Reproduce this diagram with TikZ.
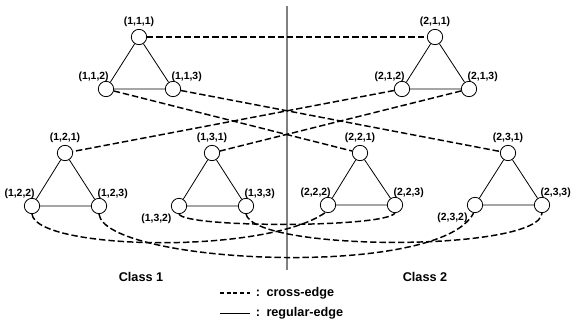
\documentclass[tikz,border=0pt]{standalone}
\usepackage{fontspec}
\setmainfont{Liberation Sans}
\tikzset{every picture/.style={line width=0.75pt}}
\tikzset{
  vtx/.style={circle,draw,fill=white,inner sep=0pt,minimum size=11.5pt,line width=0.6pt},
  every label/.style={font=\fontsize{7.8}{9}\selectfont\bfseries,inner sep=1pt},
  crossedge/.style={dash pattern=on 4.8pt off 2.2pt,line width=1.1pt},
  regedge/.style={line width=0.6pt},
  keydash/.style={dash pattern=on 3pt off 2pt,line width=0.8pt},
  txt/.style={font=\fontsize{9.5}{11}\selectfont\bfseries,inner sep=0pt},
}

\begin{document}
\begin{tikzpicture}[x=0.75pt,y=0.75pt,yscale=-1,xscale=1]
\useasboundingbox (0,0) rectangle (572,327);

%Straight Lines: class divider
\draw [color={rgb, 255:red, 128; green, 128; blue, 128 },line width=1pt] (287,6) -- (287,270) ;

%Shape: triangle (1,1,x)
\node [vtx,label={above:(1,1,1)}] (v111) at (139,37) {};
\node [vtx,label={[anchor=south,xshift=-5pt]135:(1,1,2)}] (v112) at (106,89) {};
\node [vtx,label={[anchor=south,xshift=6pt]45:(1,1,3)}] (v113) at (173,89) {};
%Shape: triangle (2,1,x)
\node [vtx,label={above:(2,1,1)}] (v211) at (435,37) {};
\node [vtx,label={[anchor=south,xshift=-5pt]135:(2,1,2)}] (v212) at (402,89) {};
\node [vtx,label={[anchor=south,xshift=6pt]45:(2,1,3)}] (v213) at (469,89) {};
%Shape: triangle (1,2,x)
\node [vtx,label={above:(1,2,1)}] (v121) at (65,153) {};
\node [vtx,label={[anchor=south,xshift=-5pt]135:(1,2,2)}] (v122) at (32,206) {};
\node [vtx,label={[anchor=south,xshift=6pt]45:(1,2,3)}] (v123) at (99,206) {};
%Shape: triangle (1,3,x)
\node [vtx,label={above:(1,3,1)}] (v131) at (212,153) {};
\node [vtx,label={[anchor=north east]225:(1,3,2)}] (v132) at (179,206) {};
\node [vtx,label={[anchor=south,xshift=6pt]45:(1,3,3)}] (v133) at (246,206) {};
%Shape: triangle (2,2,x)
\node [vtx,label={above:(2,2,1)}] (v221) at (360,153) {};
\node [vtx,label={[anchor=south,xshift=-5pt]135:(2,2,2)}] (v222) at (328,205) {};
\node [vtx,label={[anchor=south,xshift=6pt]45:(2,2,3)}] (v223) at (395,205) {};
%Shape: triangle (2,3,x)
\node [vtx,label={above:(2,3,1)}] (v231) at (508,153) {};
\node [vtx,label={[anchor=north east]225:(2,3,2)}] (v232) at (475,205) {};
\node [vtx,label={[anchor=south,xshift=6pt]45:(2,3,3)}] (v233) at (542,205) {};

%Straight Lines: regular edges
\draw [regedge] (v111) -- (v112) -- (v113) -- (v111) ;
\draw [regedge] (v211) -- (v212) -- (v213) -- (v211) ;
\draw [regedge] (v121) -- (v122) -- (v123) -- (v121) ;
\draw [regedge] (v131) -- (v132) -- (v133) -- (v131) ;
\draw [regedge] (v221) -- (v222) -- (v223) -- (v221) ;
\draw [regedge] (v231) -- (v232) -- (v233) -- (v231) ;

%Straight Lines: cross edges
\draw [crossedge] (v111) -- (v211) ;
\draw [crossedge] (v112) -- (v221) ;
\draw [crossedge] (v113) -- (v231) ;
\draw [crossedge] (v212) -- (v121) ;
\draw [crossedge] (v213) -- (v131) ;

%Curve Lines: cross edges
\draw [crossedge] (v122.south) .. controls (36,250) and (265,255) .. (v222.-110) ;
\draw [crossedge] (v123.south) .. controls (105,264) and (440,280) .. (v232.-100) ;
\draw [crossedge] (v132.south) .. controls (185,228) and (385,228) .. (v223.south) ;
\draw [crossedge] (v133.south) .. controls (255,252) and (540,252) .. (v233.south) ;

% Text Node
\node [txt] (cls1) at (141,277) {Class 1};
% Text Node
\node [txt] (cls2) at (425,277) {Class 2};

%Legend
\coordinate (k1a) at (220,293);
\coordinate (k1b) at (250,293);
\coordinate (k2a) at (220,313);
\coordinate (k2b) at (250,313);
\draw [keydash] (k1a) -- (k1b) ;
\draw [regedge] (k2a) -- (k2b) ;
\node [txt] (col1) at (258,293) {:};
\node [txt,anchor=west] (key1) at (266,293) {cross-edge};
\node [txt] (col2) at (258,313) {:};
\node [txt,anchor=west] (key2) at (266,313) {regular-edge};

\end{tikzpicture}
\end{document}
